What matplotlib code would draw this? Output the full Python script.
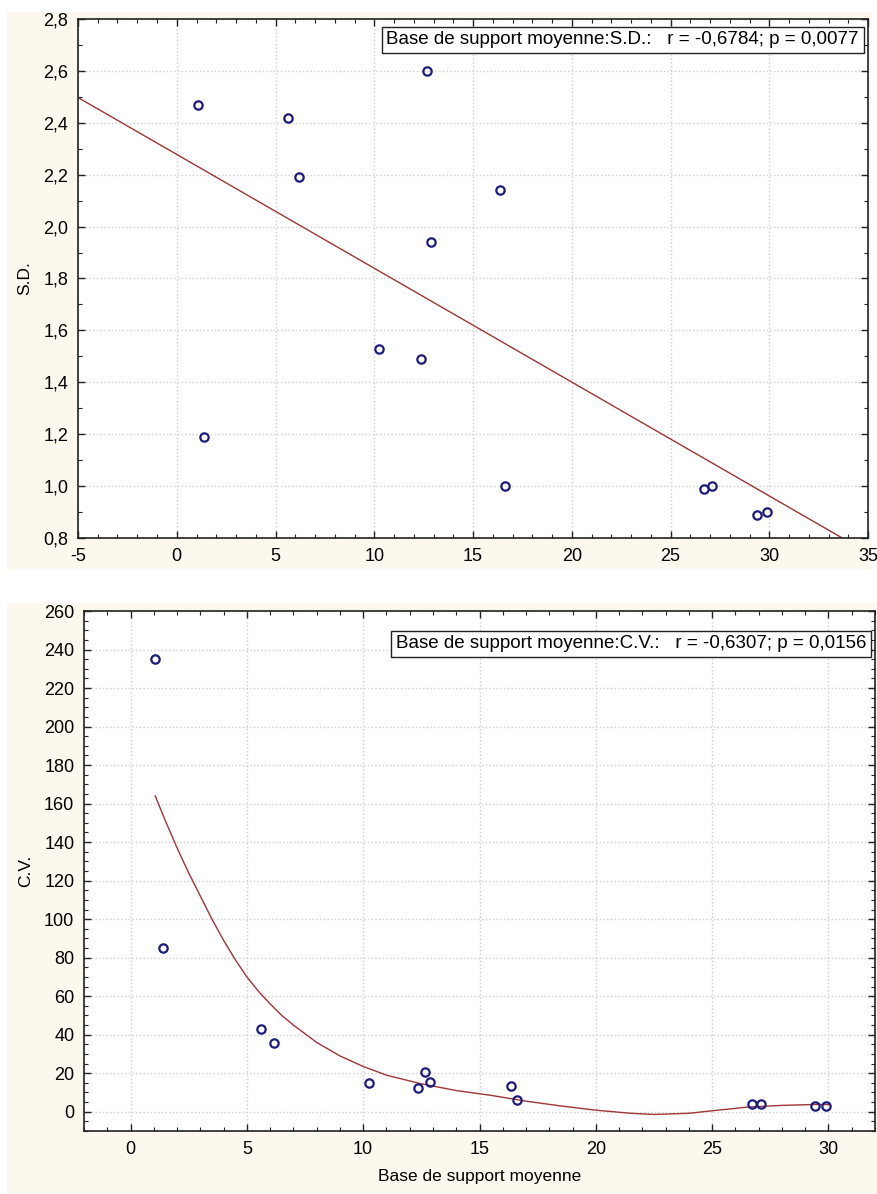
import matplotlib.pyplot as plt
from matplotlib.patches import Rectangle
from matplotlib.ticker import MultipleLocator, FuncFormatter
import numpy as np

# --------------------------------------------------
# DATA
# --------------------------------------------------

base_moy = [1.06, 1.38, 5.62, 6.18, 10.25, 12.36, 12.66, 12.86, 16.35, 16.6,
            26.7, 27.12, 29.4, 29.9]
sd_vals = [2.47, 1.19, 2.42, 2.19, 1.53, 1.49, 2.60, 1.94, 2.14, 1.00,
           0.99, 1.00, 0.89, 0.90]
cv_vals = [235, 85, 43, 35.5, 15, 12.5, 20.5, 15.5, 13.5, 6,
           4, 4, 3, 3]

# smoothed C.V. fit as drawn in the reference
fit_x = [1.06, 1.5, 2.0, 2.5, 3.0, 3.5, 4.0, 4.5, 5.0, 5.5, 6.0, 6.5, 7.0,
         8.0, 9.0, 10.0, 11.0, 12.5, 14.0, 15.5, 17.0, 18.5, 20.0, 21.5,
         22.5, 24.0, 25.0, 26.5, 28.0, 29.5, 30.0]
fit_y = [164, 151, 137, 124, 112, 100, 89, 79, 70, 62.5, 56, 50, 45,
         36, 29, 23.5, 19, 14.5, 11, 8.5, 5.5, 3, 0.8, -0.8,
         -1.4, -0.8, 0.5, 2.4, 3.3, 3.8, 3.7]

label_sd = "Base de support moyenne:S.D.:   r = -0,6784; p = 0,0077"
label_cv = "Base de support moyenne:C.V.:   r = -0,6307; p = 0,0156"
xlabel = "Base de support moyenne"

# --------------------------------------------------
# FIGURE
# --------------------------------------------------

plt.rcParams['font.family'] = ['Liberation Sans', 'DejaVu Sans']

W, H = 877, 1194
fig = plt.figure(figsize=(W / 100, H / 100), dpi=100)


def rect(l, t, r, b):
    return [l / W, 1 - b / H, (r - l) / W, (b - t) / H]


cream = '#fcf8ed'
fig.patches.append(Rectangle((7 / W, 1 - 568 / H), 863 / W, 556 / H,
                             transform=fig.transFigure, color=cream, zorder=-5))
fig.patches.append(Rectangle((7 / W, 0), 870 / W, 1 - 603 / H,
                             transform=fig.transFigure, color=cream, zorder=-5))

ax1 = fig.add_axes(rect(78, 19, 868, 538))
ax2 = fig.add_axes(rect(84, 611, 875, 1131))

pt_color = '#1c1c7a'
fit_color = '#9e3535'
box = dict(boxstyle='square,pad=0.25', fc='white', ec='#222222', lw=1)


def comma(fmt):
    return FuncFormatter(lambda v, p: format(v, fmt).replace('.', ','))


def style(ax):
    ax.set_facecolor('white')
    ax.grid(True, which='major', color='#cfcfcf', linestyle=':', linewidth=1.0)
    ax.tick_params(which='both', direction='in', top=True, right=True,
                   labelsize=13, color='#222222')
    ax.tick_params(which='major', length=5, width=1, pad=7)
    ax.tick_params(which='minor', length=3, width=0.8)
    for s in ax.spines.values():
        s.set_linewidth(1.2)
        s.set_color('#222222')


# --------------------------------------------------
# TOP: S.D.
# --------------------------------------------------

style(ax1)
ax1.set_xlim(-5, 35)
ax1.set_ylim(0.8, 2.8)
ax1.xaxis.set_major_locator(MultipleLocator(5))
ax1.xaxis.set_minor_locator(MultipleLocator(1))
ax1.yaxis.set_major_locator(MultipleLocator(0.2))
ax1.yaxis.set_minor_locator(MultipleLocator(0.1))
ax1.yaxis.set_major_formatter(comma('.1f'))
ax1.xaxis.set_major_formatter(comma('.0f'))

b, a = np.polyfit(base_moy, sd_vals, 1)
xx = np.linspace(-5, 35, 50)
ax1.plot(xx, a + b * xx, color=fit_color, lw=1.0, zorder=2)
ax1.plot(base_moy, sd_vals, 'o', ms=6, mfc='none', mec=pt_color, mew=1.6, zorder=3)
ax1.set_ylabel("S.D.", fontsize=12.5, labelpad=8)
fig.text(859 / W, 1 - 40 / H, label_sd, ha='right', va='center',
         fontsize=13.5, bbox=box, zorder=5)

# --------------------------------------------------
# BOTTOM: C.V.
# --------------------------------------------------

style(ax2)
ax2.set_xlim(-2, 32)
ax2.set_ylim(-10, 260)
ax2.xaxis.set_major_locator(MultipleLocator(5))
ax2.xaxis.set_minor_locator(MultipleLocator(1))
ax2.yaxis.set_major_locator(MultipleLocator(20))
ax2.yaxis.set_minor_locator(MultipleLocator(5))

ax2.plot(fit_x, fit_y, color=fit_color, lw=1.0, zorder=2)
ax2.plot(base_moy, cv_vals, 'o', ms=6, mfc='none', mec=pt_color, mew=1.6, zorder=3)
ax2.set_ylabel("C.V.", fontsize=12.5, labelpad=8)
ax2.set_xlabel(xlabel, fontsize=12.5, labelpad=8)
fig.text(866 / W, 1 - 644 / H, label_cv, ha='right', va='center',
         fontsize=13.5, bbox=box, zorder=5)

fig.savefig("out.png", dpi=100)
